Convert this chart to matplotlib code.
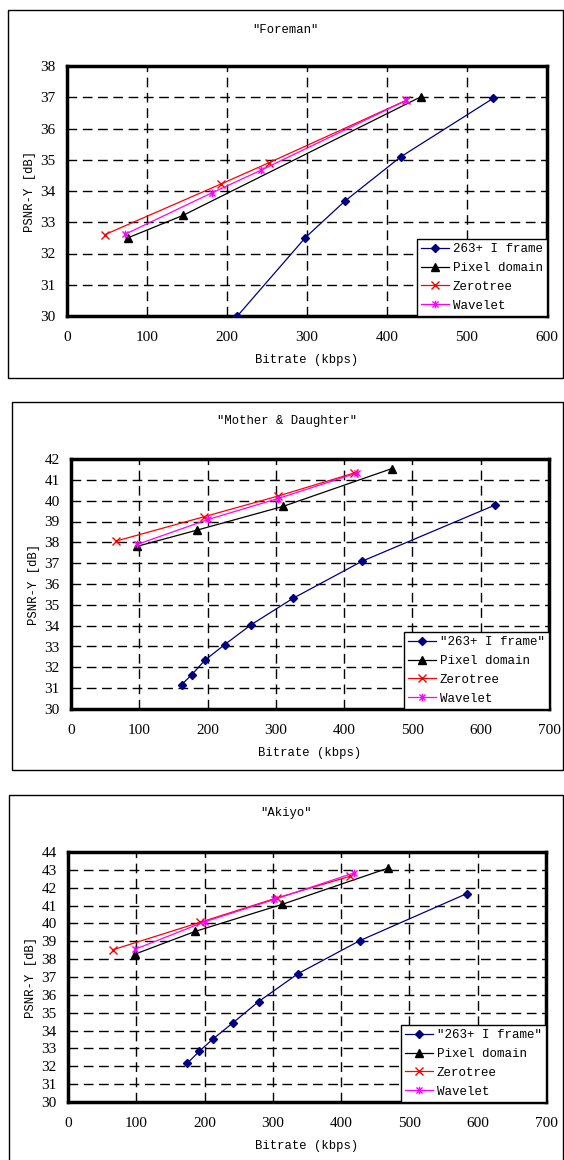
import matplotlib
matplotlib.use("Agg")
import matplotlib.pyplot as plt
from matplotlib.patches import Rectangle
from matplotlib.path import Path

# ---------------- data ----------------
fore_i_x = [213, 298, 347, 417, 533]
fore_i_y = [30.0, 32.51, 33.67, 35.09, 36.97]
fore_pix_x = [76, 145, 442]
fore_pix_y = [32.5, 33.22, 37.01]
fore_zt_x = [47, 193, 252, 424]
fore_zt_y = [32.6, 34.23, 34.9, 36.9]
fore_wav_x = [73, 181, 243, 424]
fore_wav_y = [32.62, 33.94, 34.67, 36.9]

md_i_x = [162, 177, 196, 225, 264, 325, 426, 621]
md_i_y = [31.17, 31.65, 32.34, 33.09, 34.05, 35.31, 37.09, 39.79]
md_pix_x = [97, 185, 311, 470]
md_pix_y = [37.81, 38.59, 39.73, 41.54]
md_zt_x = [66, 195, 303, 415]
md_zt_y = [38.06, 39.23, 40.22, 41.33]
md_wav_x = [97, 201, 303, 419]
md_wav_y = [37.9, 39.1, 40.1, 41.33]

ak_i_x = [175, 192, 212, 242, 279, 337, 427, 584]
ak_i_y = [32.18, 32.83, 33.52, 34.45, 35.62, 37.19, 39.03, 41.67]
ak_pix_x = [98, 186, 313, 469]
ak_pix_y = [38.28, 39.55, 41.06, 43.1]
ak_zt_x = [66, 194, 306, 413]
ak_zt_y = [38.53, 40.07, 41.43, 42.64]
ak_wav_x = [98, 200, 302, 419]
ak_wav_y = [38.55, 40.09, 41.34, 42.83]

titles = ["″Foreman″", "″Mother & Daughter″", "″Akiyo″"]
iframe_labels = ["263+ I frame", "″263+ I frame″", "″263+ I frame″"]
series_labels = ["Pixel domain", "Zerotree", "Wavelet"]
xlims = [(0, 600), (0, 700), (0, 700)]
ylims = [(30, 38), (30, 42), (30, 44)]

FONT = ["Liberation Mono", "DejaVu Sans"]
plt.rcParams['font.family'] = FONT

W, H = 564, 1160
fig = plt.figure(figsize=(W / 100, H / 100), dpi=100)

def fbox(l, t, r, b):
    return [l / W, 1 - b / H, (r - l) / W, (b - t) / H]

star = Path([(-1, -1), (1, 1), (-1, 1), (1, -1), (0, -1.25), (0, 1.25)],
            [Path.MOVETO, Path.LINETO, Path.MOVETO, Path.LINETO, Path.MOVETO, Path.LINETO])

panels = [
    dict(box=(8, 10, 563, 378), ax=(67, 66, 547, 316), title_y=30),
    dict(box=(12, 402, 563, 770), ax=(71, 459, 549, 709), title_y=421),
    dict(box=(9, 795, 563, 1175), ax=(68, 852, 546, 1102), title_y=813),
]

data = [
    (fore_i_x, fore_i_y, fore_pix_x, fore_pix_y, fore_zt_x, fore_zt_y, fore_wav_x, fore_wav_y),
    (md_i_x, md_i_y, md_pix_x, md_pix_y, md_zt_x, md_zt_y, md_wav_x, md_wav_y),
    (ak_i_x, ak_i_y, ak_pix_x, ak_pix_y, ak_zt_x, ak_zt_y, ak_wav_x, ak_wav_y),
]

for k, p in enumerate(panels):
    l, t, r, b = p["box"]
    fig.patches.append(Rectangle((l / W, 1 - b / H), (r - l) / W, (b - t) / H,
                                 transform=fig.transFigure, fill=False,
                                 edgecolor="black", linewidth=1.0))
    fig.text((l + r) / 2 / W, 1 - p["title_y"] / H, titles[k], ha="center", va="center",
             fontsize=8.8)
    al, at, ar, ab = p["ax"]
    ax = fig.add_axes(fbox(al, at, ar, ab))
    ix, iy, px, py, zx, zy, wx, wy = data[k]
    ax.plot(ix, iy, color="#000080", marker="D", markersize=4, linewidth=0.9,
            label=iframe_labels[k], zorder=3)
    ax.plot(px, py, color="black", marker="^", markersize=5.5, linewidth=0.9,
            label=series_labels[0], zorder=3)
    ax.plot(zx, zy, color="red", marker="x", markersize=5.5, markeredgewidth=1.0,
            linewidth=0.9, label=series_labels[1], zorder=3)
    ax.plot(wx, wy, color="#FF00FF", marker=star, markersize=5.5, markeredgewidth=1.0,
            linewidth=0.9, label=series_labels[2], zorder=3)
    ax.set_xlim(*xlims[k])
    ax.set_ylim(*ylims[k])
    ax.set_xticks(range(xlims[k][0], xlims[k][1] + 1, 100))
    ax.set_yticks(range(ylims[k][0], ylims[k][1] + 1, 1))
    ax.grid(True, color="black", linestyle=(0, (7, 4)), linewidth=1.0)
    ax.set_axisbelow(True)
    for s in ax.spines.values():
        s.set_linewidth(2.5)
    ax.tick_params(axis="x", length=0, labelsize=11, pad=11)
    ax.tick_params(axis="y", length=0, labelsize=11, pad=8)
    for lab in ax.get_xticklabels() + ax.get_yticklabels():
        lab.set_fontfamily(["Liberation Serif", "DejaVu Serif"])
    ax.set_xlabel("Bitrate (kbps)", fontsize=8.8, labelpad=7)
    ax.set_ylabel("PSNR-Y [dB]", fontsize=8.8, labelpad=3)
    leg = ax.legend(loc="lower right", bbox_to_anchor=(1, 0), frameon=True,
                    fancybox=False, framealpha=1, edgecolor="black", fontsize=9,
                    handlelength=2.2, handletextpad=0.3, borderpad=0.35,
                    labelspacing=0.55, borderaxespad=0)
    leg.get_frame().set_linewidth(1.0)
    leg.set_zorder(5)

fig.savefig("out.png", dpi=100)
